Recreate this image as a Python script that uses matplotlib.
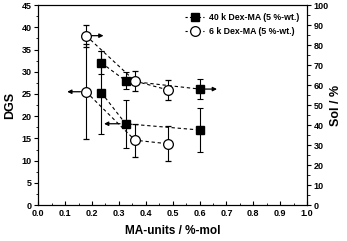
import matplotlib
matplotlib.use("Agg")
import matplotlib.pyplot as plt
from matplotlib.ticker import MultipleLocator
from matplotlib.lines import Line2D

plt.rcParams['font.family'] = ['Liberation Sans', 'DejaVu Sans']
plt.rcParams['font.weight'] = 'bold'

# 40 k Dex-MA (squares)
x40_dgs = [0.235, 0.325, 0.60]
dgs40 = [25.3, 18.3, 16.9]
dgs40_err = [9.4, 5.4, 5.0]
x40_sol = [0.235, 0.325, 0.60]
sol40 = [71.1, 62.2, 58.0]
sol40_err = [5.8, 4.4, 4.9]

# 6 k Dex-MA (circles)
x6_dgs = [0.178, 0.36, 0.482]
dgs6 = [25.5, 14.6, 13.8]
dgs6_err = [10.7, 3.7, 3.9]
x6_sol = [0.178, 0.36, 0.482]
sol6 = [84.7, 62.0, 57.6]
sol6_err = [5.5, 5.1, 5.1]

labels = ['40 k Dex-MA (5 %-wt.)', '6 k Dex-MA (5 %-wt.)']

fig = plt.figure(figsize=(3.47, 2.41), dpi=100)
ax = fig.add_axes([0.110, 0.149, 0.775, 0.830])
ax2 = ax.twinx()

dash = (0, (3, 2.5))
ekw = dict(ecolor='black', elinewidth=0.8, capsize=2, capthick=0.8)
ax.errorbar(x40_dgs, dgs40, yerr=dgs40_err, fmt='s', color='black', ms=5.5,
            ls=dash, lw=0.8, **ekw)
ax.errorbar(x6_dgs, dgs6, yerr=dgs6_err, fmt='o', color='black', mfc='white',
            ms=7, mew=0.9, ls=dash, lw=0.8, **ekw)
ax2.errorbar(x40_sol, sol40, yerr=sol40_err, fmt='s', color='black', ms=5.5,
             ls=dash, lw=0.8, **ekw)
ax2.errorbar(x6_sol, sol6, yerr=sol6_err, fmt='o', color='black', mfc='white',
             ms=7, mew=0.9, ls=dash, lw=0.8, **ekw)

# arrows pointing to the axis each series belongs to
arw = dict(arrowstyle='-|>', color='black', lw=0.9, mutation_scale=6, shrinkA=4, shrinkB=0)
ax.annotate('', xy=(x6_dgs[0] - 0.07, dgs6[0]), xytext=(x6_dgs[0], dgs6[0]), arrowprops=arw)
ax.annotate('', xy=(x40_dgs[1] - 0.08, dgs40[1]), xytext=(x40_dgs[1], dgs40[1]), arrowprops=arw)
ax2.annotate('', xy=(x6_sol[0] + 0.065, sol6[0]), xytext=(x6_sol[0], sol6[0]), arrowprops=arw)
ax2.annotate('', xy=(x40_sol[2] + 0.065, sol40[2]), xytext=(x40_sol[2], sol40[2]), arrowprops=arw)

ax.set_xlim(0, 1.0)
ax.set_ylim(0, 45)
ax2.set_ylim(0, 100)

ax.xaxis.set_major_locator(MultipleLocator(0.1))
ax.xaxis.set_minor_locator(MultipleLocator(0.05))
ax.yaxis.set_major_locator(MultipleLocator(5))
ax.yaxis.set_minor_locator(MultipleLocator(2.5))
ax2.yaxis.set_major_locator(MultipleLocator(10))
ax2.yaxis.set_minor_locator(MultipleLocator(5))

ax.tick_params(axis='x', direction='in', length=3, width=0.8, labelsize=6.5, pad=3)
ax.tick_params(axis='x', which='minor', direction='in', length=1.8, width=0.6)
ax.tick_params(axis='y', direction='out', length=3, width=0.8, labelsize=6.5, pad=1.5)
ax.tick_params(axis='y', which='minor', direction='out', length=1.8, width=0.6)
ax2.tick_params(axis='y', direction='out', length=3, width=0.8, labelsize=6.5, pad=1.5)
ax2.tick_params(axis='y', which='minor', direction='out', length=1.8, width=0.6)

ax.xaxis.set_major_formatter(matplotlib.ticker.FormatStrFormatter('%.1f'))

for a in (ax, ax2):
    for s in a.spines.values():
        s.set_linewidth(0.8)

ax.set_xlabel('MA-units / %-mol', fontsize=8.5, fontweight='bold', labelpad=5)
ax.set_ylabel('DGS', fontsize=9, fontweight='bold', labelpad=4)
ax2.set_ylabel('Sol / %', fontsize=9, fontweight='bold', labelpad=1)

h1 = Line2D([], [], color='black', ls=(0, (2, 2)), lw=0.8, marker='s', ms=5.5)
h2 = Line2D([], [], color='black', ls=(0, (2, 2)), lw=0.8, marker='o', ms=7,
            mfc='white', mew=0.9)
ax2.legend([h1, h2], labels, loc='upper right', frameon=False,
           handlelength=2.2, handletextpad=0.5, borderaxespad=0.5, labelspacing=0.55,
           prop={'weight': 'bold', 'size': 6.3})

fig.savefig('out.png', dpi=100)
